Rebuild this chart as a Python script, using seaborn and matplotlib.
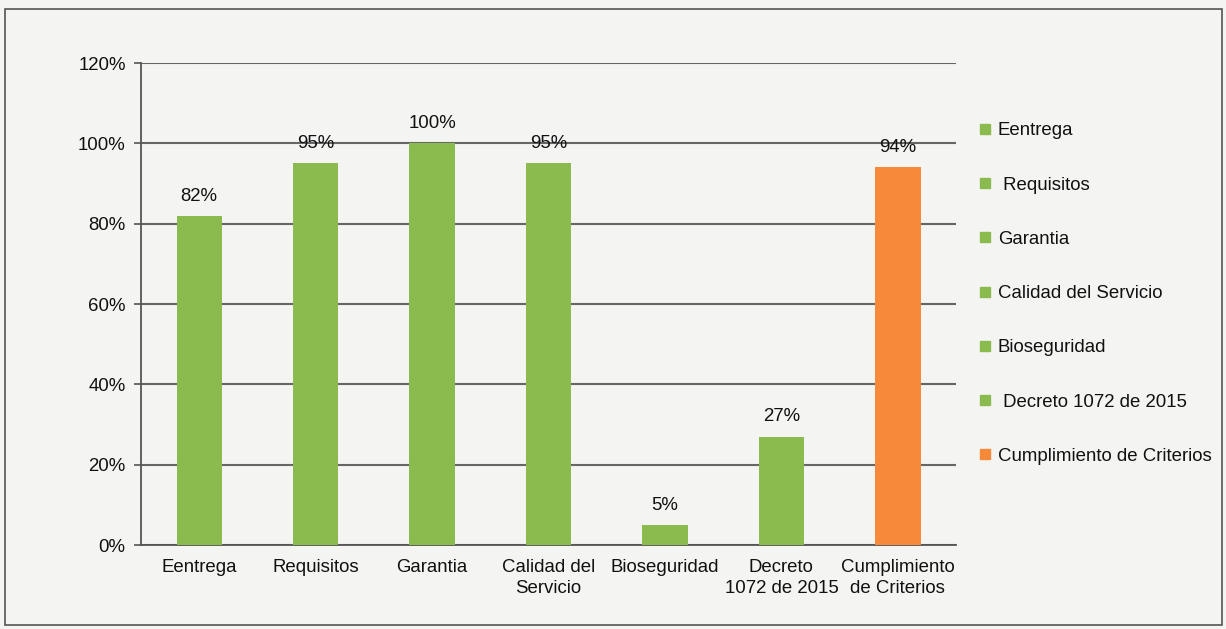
import numpy as np
import matplotlib
matplotlib.use('Agg')
import matplotlib.pyplot as plt
import seaborn as sns
from matplotlib.lines import Line2D
from matplotlib.patches import Rectangle

categorias = ['Eentrega', 'Requisitos', 'Garantia', 'Calidad del\nServicio',
              'Bioseguridad', 'Decreto\n1072 de 2015', 'Cumplimiento\nde Criterios']
leyenda = ['Eentrega', ' Requisitos', 'Garantia', 'Calidad del Servicio',
           'Bioseguridad', ' Decreto 1072 de 2015', 'Cumplimiento de Criterios']
valores = [82, 95, 100, 95, 5, 27, 94]
etiquetas = ['82%', '95%', '100%', '95%', '5%', '27%', '94%']

verde = '#8BBB4F'
naranja = '#F7893A'
colores = [verde] * 6 + [naranja]

sns.set_theme(style='white')
plt.rcParams['font.family'] = ['Liberation Sans', 'DejaVu Sans']

fig = plt.figure(figsize=(12.26, 6.29), dpi=100, facecolor='#f4f4f3')
ax = fig.add_axes([0.1150, 0.1335, 0.6648, 0.7663])
ax.set_facecolor('none')

sns.barplot(x=categorias, y=valores, hue=categorias, palette=colores,
            width=0.39, legend=False, saturation=1, linewidth=0,
            ax=ax, zorder=3)

for cont, txt in zip(ax.containers, etiquetas):
    ax.bar_label(cont, labels=[txt], padding=8, fontsize=13.4, color='#111')

ax.set_ylim(0, 120)
ax.set_xlim(-0.5, len(categorias) - 0.5)
ax.set_yticks(np.arange(0, 121, 20))
ax.set_yticklabels([f'{v}%' for v in range(0, 121, 20)], fontsize=13.4, color='#111')
ax.yaxis.grid(True, color='#666666', linewidth=1.5, zorder=0)
ax.set_axisbelow(True)

ax.set_xticks(range(len(categorias)))
ax.set_xticklabels(categorias, fontsize=13.4, color='#111', linespacing=1.3)
ax.set_xticks(np.arange(-0.5, len(categorias)), minor=True)
ax.tick_params(axis='x', which='major', length=0, pad=10)
ax.tick_params(axis='x', which='minor', length=6, width=1.2, color='#555', direction='out')
ax.tick_params(axis='y', length=5, width=1.2, color='#555', direction='out', left=True, pad=6)

for s in ['top', 'right']:
    ax.spines[s].set_visible(False)
for s in ['left', 'bottom']:
    ax.spines[s].set_color('#555')
    ax.spines[s].set_linewidth(1.3)

handles = [Line2D([0], [0], marker='s', linestyle='none', markersize=7,
                  markerfacecolor=c, markeredgecolor=c) for c in colores]
fig.legend(handles, leyenda, loc='upper left', bbox_to_anchor=(0.785, 0.832),
           frameon=False, fontsize=13.4, labelspacing=2.0, handlelength=0.6,
           handletextpad=0.4, labelcolor='#111')

fig.patches.append(Rectangle((5 / 1226, 4 / 629), 1217 / 1226, 616 / 629,
                             transform=fig.transFigure, fill=False,
                             edgecolor='#555', linewidth=1.2))

fig.savefig('out.png', dpi=100, facecolor=fig.get_facecolor())
